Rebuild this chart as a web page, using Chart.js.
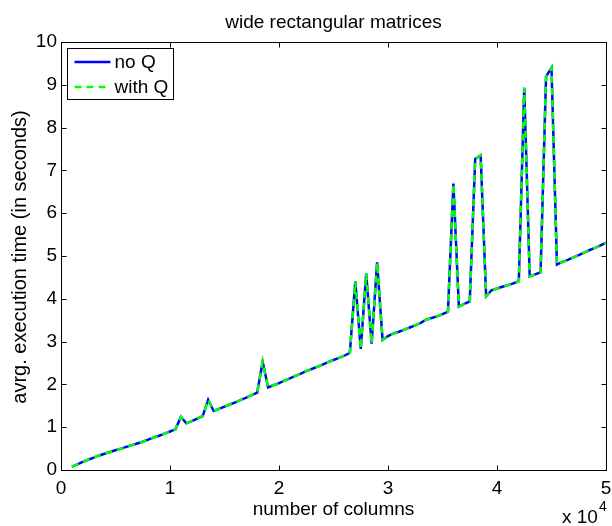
<!DOCTYPE html>
<html>
<head>
<title>wide rectangular matrices</title>
<script src="https://cdn.jsdelivr.net/npm/chart.js"></script>
<style>
    body { margin: 0; background: #fff; }
    canvas { display: block; }
</style>
</head>
<body>
<canvas id="chart" width="612" height="526"></canvas>
<script>
// number of columns
const columns = [
    1000, 1500, 2000, 2500, 3000, 3500, 4000, 4500, 5000, 5500,
    6000, 6500, 7000, 7500, 8000, 8500, 9000, 9500, 10000, 10500,
    11000, 11500, 12000, 12500, 13000, 13500, 14000, 14500, 15000, 15500,
    16000, 16500, 17000, 17500, 18000, 18500, 19000, 19500, 20000, 20500,
    21000, 21500, 22000, 22500, 23000, 23500, 24000, 24500, 25000, 25500,
    26000, 26500, 27000, 27500, 28000, 28500, 29000, 29500, 30000, 30500,
    31000, 31500, 32000, 32500, 33000, 33500, 34000, 34500, 35000, 35500,
    36000, 36500, 37000, 37500, 38000, 38500, 39000, 39500, 40000, 40500,
    41000, 41500, 42000, 42500, 43000, 43500, 44000, 44500, 45000, 45500,
    46000, 46500, 47000, 47500, 48000, 48500, 49000, 49500, 50000
];
// avrg. execution time (s)
const noQ = [
    0.08, 0.13, 0.19, 0.24, 0.29, 0.34, 0.38, 0.42, 0.46, 0.50,
    0.54, 0.58, 0.62, 0.66, 0.71, 0.76, 0.80, 0.85, 0.90, 0.95,
    1.24, 1.09, 1.14, 1.20, 1.26, 1.64, 1.38, 1.43, 1.48, 1.53,
    1.58, 1.64, 1.69, 1.75, 1.81, 2.53, 1.93, 1.98, 2.03, 2.09,
    2.14, 2.20, 2.25, 2.31, 2.36, 2.41, 2.46, 2.52, 2.57, 2.62,
    2.67, 2.74, 4.41, 2.83, 4.59, 2.95, 4.85, 3.04, 3.13, 3.19,
    3.23, 3.28, 3.33, 3.38, 3.44, 3.51, 3.55, 3.59, 3.64, 3.70,
    6.69, 3.82, 3.88, 3.94, 7.27, 7.35, 4.06, 4.20, 4.24, 4.28,
    4.32, 4.36, 4.41, 8.93, 4.52, 4.57, 4.62, 9.19, 9.40, 4.80,
    4.86, 4.91, 4.97, 5.02, 5.08, 5.14, 5.19, 5.25, 5.31
];
const withQ = [
    0.08, 0.13, 0.19, 0.24, 0.29, 0.34, 0.38, 0.42, 0.46, 0.50,
    0.54, 0.58, 0.62, 0.66, 0.71, 0.76, 0.80, 0.85, 0.90, 0.95,
    1.24, 1.09, 1.14, 1.20, 1.26, 1.64, 1.38, 1.43, 1.48, 1.53,
    1.58, 1.64, 1.69, 1.75, 1.81, 2.53, 1.93, 1.98, 2.03, 2.09,
    2.14, 2.20, 2.25, 2.31, 2.36, 2.41, 2.46, 2.52, 2.57, 2.62,
    2.67, 2.74, 4.41, 2.83, 4.59, 2.95, 4.85, 3.04, 3.13, 3.19,
    3.23, 3.28, 3.33, 3.38, 3.44, 3.51, 3.55, 3.59, 3.64, 3.70,
    6.69, 3.82, 3.88, 3.94, 7.27, 7.35, 4.06, 4.20, 4.24, 4.28,
    4.32, 4.36, 4.41, 8.93, 4.52, 4.57, 4.62, 9.19, 9.40, 4.80,
    4.86, 4.91, 4.97, 5.02, 5.08, 5.14, 5.19, 5.25, 5.31
];
const xTicks = [0, 10000, 20000, 30000, 40000, 50000];
const yTicks = [0, 1, 2, 3, 4, 5, 6, 7, 8, 9, 10];

const FONT = '"Liberation Sans", Arial, Helvetica, sans-serif';
const FSIZE = 19;

// cadre, petites graduations vers l'intérieur, légende et textes façon MATLAB
const matlabLook = {
    id: 'matlabLook',
    afterDatasetsDraw(chart) {
        const { ctx, chartArea: a, scales: { x, y } } = chart;
        const L = Math.round(a.left) + 0.5, R = Math.round(a.right) + 0.5;
        const T = Math.round(a.top) + 0.5, B = Math.round(a.bottom) + 0.5;
        ctx.save();
        ctx.strokeStyle = '#000';
        ctx.lineWidth = 1;
        ctx.setLineDash([]);
        ctx.strokeRect(L, T, R - L, B - T);
        ctx.beginPath();
        xTicks.forEach(v => {
            const px = Math.round(x.getPixelForValue(v)) + 0.5;
            ctx.moveTo(px, B); ctx.lineTo(px, B - 5);
            ctx.moveTo(px, T); ctx.lineTo(px, T + 5);
        });
        yTicks.forEach(v => {
            const py = Math.round(y.getPixelForValue(v)) + 0.5;
            ctx.moveTo(L, py); ctx.lineTo(L + 5, py);
            ctx.moveTo(R, py); ctx.lineTo(R - 5, py);
        });
        ctx.stroke();

        // légende
        const bx = 67.5, by = 48.5, bw = 106, bh = 51;
        ctx.fillStyle = '#fff';
        ctx.fillRect(bx, by, bw, bh);
        ctx.strokeRect(bx, by, bw, bh);
        ctx.font = FSIZE + 'px ' + FONT;
        ctx.textBaseline = 'middle';
        ctx.textAlign = 'left';
        chart.data.datasets.forEach((ds, i) => {
            const ry = by + 13.5 + i * 25;
            ctx.strokeStyle = ds.borderColor;
            ctx.lineWidth = ds.borderWidth;
            ctx.setLineDash(ds.borderDash || []);
            ctx.beginPath();
            ctx.moveTo(bx + 7, ry); ctx.lineTo(bx + 43, ry);
            ctx.stroke();
            ctx.fillStyle = '#000';
            ctx.fillText(ds.label, bx + 47, ry + 1);
        });
        ctx.restore();
    },
    afterDraw(chart) {
        const { ctx, chartArea: a } = chart;
        const cx = (a.left + a.right) / 2;
        ctx.save();
        ctx.fillStyle = '#000';
        ctx.font = FSIZE + 'px ' + FONT;
        ctx.textBaseline = 'alphabetic';
        ctx.textAlign = 'center';
        ctx.fillText('wide rectangular matrices', cx, 28);
        ctx.fillText('number of columns', cx, 515);
        // x 10^4
        ctx.textAlign = 'left';
        ctx.fillText('x 10', 562, 523);
        ctx.font = '14px ' + FONT;
        ctx.fillText('4', 599, 511);
        // titre vertical
        ctx.font = '20px ' + FONT;
        ctx.translate(26, 257);
        ctx.rotate(-Math.PI / 2);
        ctx.textAlign = 'center';
        ctx.fillText('avrg. execution time (in seconds)', 0, 0);
        ctx.restore();
    }
};

const toPoints = vals => columns.map((c, i) => ({ x: c, y: vals[i] }));

new Chart(document.getElementById('chart'), {
    type: 'line',
    data: {
        datasets: [
            {
                label: 'no Q',
                data: toPoints(noQ),
                borderColor: '#0000ff',
                borderWidth: 2.5,
                pointRadius: 0,
                tension: 0,
                order: 2
            },
            {
                label: 'with Q',
                data: toPoints(withQ),
                borderColor: '#00ff00',
                borderWidth: 2.5,
                borderDash: [7, 5],
                pointRadius: 0,
                tension: 0,
                order: 1
            }
        ]
    },
    options: {
        responsive: false,
        animation: false,
        devicePixelRatio: 1,
        layout: { padding: { left: 0, right: 6, top: 42, bottom: 0 } },
        plugins: {
            legend: { display: false },
            tooltip: { enabled: false },
            title: { display: false }
        },
        scales: {
            x: {
                type: 'linear',
                min: 0,
                max: 50000,
                afterFit: s => { s.height = 56; s.paddingLeft = 0; s.paddingRight = 0; },
                afterBuildTicks: s => { s.ticks = xTicks.map(v => ({ value: v })); },
                grid: { display: false, drawTicks: false },
                border: { display: false },
                ticks: {
                    color: '#000',
                    padding: 7,
                    maxRotation: 0,
                    font: { family: FONT, size: FSIZE },
                    callback: v => v / 10000
                }
            },
            y: {
                type: 'linear',
                min: 0,
                max: 10,
                afterFit: s => { s.width = 61; s.paddingTop = 0; s.paddingBottom = 0; },
                afterBuildTicks: s => { s.ticks = yTicks.map(v => ({ value: v })); },
                grid: { display: false, drawTicks: false },
                border: { display: false },
                ticks: {
                    color: '#000',
                    padding: 4,
                    font: { family: FONT, size: FSIZE }
                }
            }
        }
    },
    plugins: [matlabLook]
});
</script>
</body>
</html>
